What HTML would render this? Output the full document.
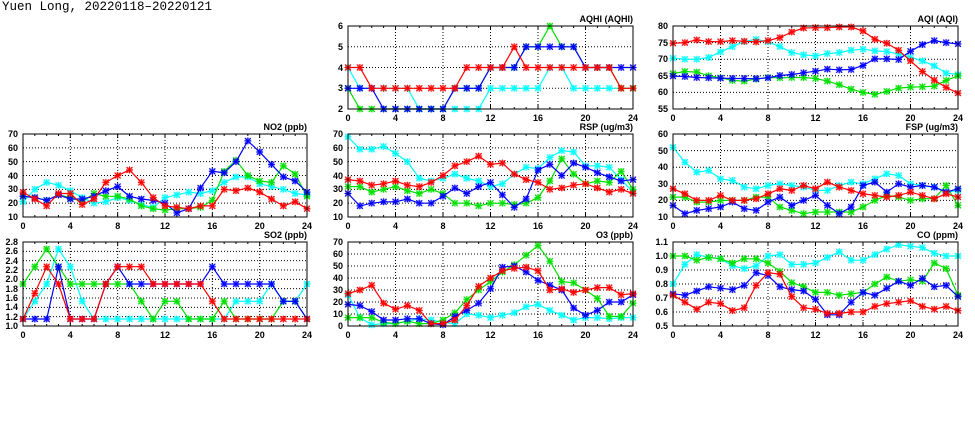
<!DOCTYPE html>
<html><head><meta charset="utf-8"><style>
html,body{margin:0;padding:0;background:#fff;width:975px;height:447px;overflow:hidden}
svg{display:block}
text{font-family:"Liberation Sans",sans-serif;font-size:9px;font-weight:bold;fill:#000}
.yl{text-anchor:end}.xl{text-anchor:middle}.tt{text-anchor:end}
</style></head><body>
<svg id="s" width="975" height="447" xmlns="http://www.w3.org/2000/svg">
<text x="2" y="10" style="font-family:'Liberation Mono',monospace;font-size:12.5px;font-weight:normal">Yuen Long, 20220118–20220121</text>
<g id="plots"></g>
<text class="tt" x="633" y="22">AQHI (AQHI)</text>
<text class="tt" x="958" y="22">AQI (AQI)</text>
<text class="tt" x="307" y="130">NO2 (ppb)</text>
<text class="tt" x="633" y="130">RSP (ug/m3)</text>
<text class="tt" x="958" y="130">FSP (ug/m3)</text>
<text class="tt" x="307" y="238">SO2 (ppb)</text>
<text class="tt" x="633" y="238">O3 (ppb)</text>
<text class="tt" x="958" y="238">CO (ppm)</text>
<text class="yl" x="343" y="29">6</text><text class="yl" x="343" y="50">5</text><text class="yl" x="343" y="71">4</text><text class="yl" x="343" y="91">3</text><text class="yl" x="343" y="112">2</text>
<text class="xl" x="348" y="121">0</text><text class="xl" x="395.5" y="121">4</text><text class="xl" x="443" y="121">8</text><text class="xl" x="490.5" y="121">12</text><text class="xl" x="538" y="121">16</text><text class="xl" x="585.5" y="121">20</text><text class="xl" x="633" y="121">24</text>
<text class="yl" x="668" y="29">80</text><text class="yl" x="668" y="46">75</text><text class="yl" x="668" y="62">70</text><text class="yl" x="668" y="79">65</text><text class="yl" x="668" y="95">60</text><text class="yl" x="668" y="112">55</text>
<text class="xl" x="673" y="121">0</text><text class="xl" x="720.5" y="121">4</text><text class="xl" x="768" y="121">8</text><text class="xl" x="815.5" y="121">12</text><text class="xl" x="863" y="121">16</text><text class="xl" x="910.5" y="121">20</text><text class="xl" x="958" y="121">24</text>
<text class="yl" x="18" y="137">70</text><text class="yl" x="18" y="151">60</text><text class="yl" x="18" y="165">50</text><text class="yl" x="18" y="179">40</text><text class="yl" x="18" y="192">30</text><text class="yl" x="18" y="206">20</text><text class="yl" x="18" y="220">10</text>
<text class="xl" x="23" y="229">0</text><text class="xl" x="70.3" y="229">4</text><text class="xl" x="117.7" y="229">8</text><text class="xl" x="165" y="229">12</text><text class="xl" x="212.3" y="229">16</text><text class="xl" x="259.7" y="229">20</text><text class="xl" x="307" y="229">24</text>
<text class="yl" x="343" y="137">70</text><text class="yl" x="343" y="151">60</text><text class="yl" x="343" y="165">50</text><text class="yl" x="343" y="179">40</text><text class="yl" x="343" y="192">30</text><text class="yl" x="343" y="206">20</text><text class="yl" x="343" y="220">10</text>
<text class="xl" x="348" y="229">0</text><text class="xl" x="395.5" y="229">4</text><text class="xl" x="443" y="229">8</text><text class="xl" x="490.5" y="229">12</text><text class="xl" x="538" y="229">16</text><text class="xl" x="585.5" y="229">20</text><text class="xl" x="633" y="229">24</text>
<text class="yl" x="668" y="137">60</text><text class="yl" x="668" y="154">50</text><text class="yl" x="668" y="170">40</text><text class="yl" x="668" y="187">30</text><text class="yl" x="668" y="203">20</text><text class="yl" x="668" y="220">10</text>
<text class="xl" x="673" y="229">0</text><text class="xl" x="720.5" y="229">4</text><text class="xl" x="768" y="229">8</text><text class="xl" x="815.5" y="229">12</text><text class="xl" x="863" y="229">16</text><text class="xl" x="910.5" y="229">20</text><text class="xl" x="958" y="229">24</text>
<text class="yl" x="18" y="245">2.8</text><text class="yl" x="18" y="254">2.6</text><text class="yl" x="18" y="264">2.4</text><text class="yl" x="18" y="273">2.2</text><text class="yl" x="18" y="282">2.0</text><text class="yl" x="18" y="292">1.8</text><text class="yl" x="18" y="301">1.6</text><text class="yl" x="18" y="310">1.4</text><text class="yl" x="18" y="320">1.2</text><text class="yl" x="18" y="329">1.0</text>
<text class="xl" x="23" y="338">0</text><text class="xl" x="70.3" y="338">4</text><text class="xl" x="117.7" y="338">8</text><text class="xl" x="165" y="338">12</text><text class="xl" x="212.3" y="338">16</text><text class="xl" x="259.7" y="338">20</text><text class="xl" x="307" y="338">24</text>
<text class="yl" x="343" y="245">70</text><text class="yl" x="343" y="257">60</text><text class="yl" x="343" y="269">50</text><text class="yl" x="343" y="281">40</text><text class="yl" x="343" y="293">30</text><text class="yl" x="343" y="305">20</text><text class="yl" x="343" y="317">10</text><text class="yl" x="343" y="329">0</text>
<text class="xl" x="348" y="338">0</text><text class="xl" x="395.5" y="338">4</text><text class="xl" x="443" y="338">8</text><text class="xl" x="490.5" y="338">12</text><text class="xl" x="538" y="338">16</text><text class="xl" x="585.5" y="338">20</text><text class="xl" x="633" y="338">24</text>
<text class="yl" x="668" y="245">1.1</text><text class="yl" x="668" y="259">1.0</text><text class="yl" x="668" y="273">0.9</text><text class="yl" x="668" y="287">0.8</text><text class="yl" x="668" y="301">0.7</text><text class="yl" x="668" y="315">0.6</text><text class="yl" x="668" y="329">0.5</text>
<text class="xl" x="673" y="338">0</text><text class="xl" x="720.5" y="338">4</text><text class="xl" x="768" y="338">8</text><text class="xl" x="815.5" y="338">12</text><text class="xl" x="863" y="338">16</text><text class="xl" x="910.5" y="338">20</text><text class="xl" x="958" y="338">24</text>
</svg>
<script>
var C={c:"#00ffff",g:"#00e000",b:"#0000ff",r:"#ff0000"};
var P=[
{x0:348,x1:633,y0:26,y1:109,lo:2,hi:6,st:1,d:{
c:[4,3,3,3,3,3,2,2,2,2,2,2,3,3,3,3,3,4,4,3,3,3,3,3,3],
g:[3,2,2,2,2,2,2,2,2,3,3,3,4,4,4,5,5,6,5,5,4,4,4,3,3],
b:[3,3,3,2,2,2,2,2,2,3,3,3,4,4,4,5,5,5,5,5,4,4,4,4,4],
r:[4,4,3,3,3,3,3,3,3,3,4,4,4,4,5,4,4,4,4,4,4,4,4,3,3]}},
{x0:673,x1:958,y0:26,y1:109,lo:55,hi:80,st:5,d:{
c:[70.3,70,70,70.5,72.2,73.8,75.3,76,75.2,73.8,72,71.3,71,71.7,72,72.7,73,72.5,72.3,71.6,70.6,69.5,68,65.8,65.4],
g:[65.7,66.3,66.1,65,64.4,63.6,63.4,64,64.5,64.4,64.5,64.5,64.2,63.4,62.3,61,60,59.4,60.3,61.3,61.6,61.7,61.9,63.6,65],
b:[64.9,64.8,64.5,64.4,64.3,64.2,64.2,64.1,64.4,65.1,65.4,65.9,66.4,67,66.8,66.9,68.1,70.1,70.1,69.9,72.4,74.4,75.6,75,74.6],
r:[74.8,75,75.8,75.3,75.3,75.6,75.4,75.2,75.6,76.5,78.2,79.4,79.5,79.5,79.7,79.7,78.5,76,74.8,72.7,69.5,66.3,63.7,61.5,59.8]}},
{x0:23,x1:307,y0:134,y1:217,lo:10,hi:70,st:10,d:{
c:[21,30,35,33,29,24,20,21,24,22,19,17,24,26,28,27,29,35,39,39,34,32,30,27,26],
g:[25,24,22,26,24,21,27,25,25,23,18,16,15,16,16,17,22,43,51,40,36,35,47,41,25],
b:[25,24,22,26,23,23,25,29,32,25,23,22,20,13,16,31,43,42,50,65,57,48,39,36,28],
r:[28,23,18,27,27,19,23,35,40,44,35,24,18,17,16,18,18,30,29,31,28,23,18,21,16]}},
{x0:348,x1:633,y0:134,y1:217,lo:10,hi:70,st:10,d:{
c:[68,59,59,61,56,50,38,36,38,41,38,36,32,34,41,46,45,53,58,57,47,47,46,37,28],
g:[32,32,28,30,32,29,27,30,27,20,20,18,20,20,19,20,24,36,52,41,34,36,35,43,30],
b:[27,18,20,21,21,23,20,20,25,31,27,32,35,26,17,23,44,48,40,49,46,42,39,36,37],
r:[37,36,33,34,36,33,32,35,40,47,50,54,48,49,41,37,35,30,31,33,34,31,28,30,27]}},
{x0:673,x1:958,y0:134,y1:217,lo:10,hi:60,st:10,d:{
c:[52,43,37,38,33,32,28,27,29,30,29,28,26,26,29,31,30,33,36,35,30,29,28,25,26],
g:[22,22,19,19,20,20,20,22,22,16,14,12,13,13,13,13,16,20,23,22,20,21,21,29,17],
b:[17,12,14,15,16,19,15,14,19,22,17,20,23,17,12,16,29,31,25,30,28,29,28,25,27],
r:[27,24,20,20,23,20,20,21,24,27,26,29,27,31,28,26,24,23,22,23,25,23,21,24,22]}},
{x0:23,x1:307,y0:242,y1:326,lo:1,hi:2.8,st:0.2,d:{
c:[1.15,1.53,1.9,2.65,2.27,1.53,1.15,1.15,1.15,1.15,1.15,1.15,1.15,1.15,1.15,1.15,1.15,1.15,1.53,1.53,1.53,1.9,1.53,1.53,1.9],
g:[1.9,2.27,2.65,2.27,1.9,1.9,1.9,1.9,1.9,1.9,1.53,1.15,1.53,1.53,1.15,1.15,1.15,1.53,1.15,1.15,1.15,1.15,1.53,1.53,1.15],
b:[1.15,1.15,1.15,2.27,1.15,1.15,1.15,1.9,2.27,1.9,1.9,1.9,1.9,1.9,1.9,1.9,2.27,1.9,1.9,1.9,1.9,1.9,1.53,1.53,1.15],
r:[1.15,1.7,2.27,1.9,1.15,1.15,1.15,1.9,2.27,2.27,2.27,1.9,1.9,1.9,1.9,1.9,1.53,1.15,1.15,1.15,1.15,1.15,1.15,1.15,1.15]}},
{x0:348,x1:633,y0:242,y1:326,lo:0,hi:70,st:10,d:{
c:[26,7,1,2,2,4,6,5,3,2,10,9,7,9,11,16,18,13,9,5,7,7,6,7,7],
g:[7,7,7,3,2,4,2,2,5,11,22,30,37,45,51,59,67,54,37,36,30,23,8,8,19],
b:[18,17,12,5,5,6,6,2,1,8,13,19,31,49,50,45,38,34,30,15,9,13,20,20,26],
r:[27,30,34,19,14,17,13,2,2,5,17,33,40,46,48,49,46,30,31,28,30,32,32,26,27]}},
{x0:673,x1:958,y0:242,y1:326,lo:0.5,hi:1.1,st:0.1,d:{
c:[.80,.94,1.01,.99,.98,.93,.91,.93,1.0,1.01,.94,.94,.95,.99,1.03,.97,.97,1.01,1.05,1.08,1.07,1.06,1.02,1.0,1.0],
g:[1.0,1.0,.97,.99,.98,.95,.98,.98,.95,.89,.81,.78,.74,.74,.72,.73,.74,.80,.85,.82,.83,.82,.95,.91,.72],
b:[.73,.72,.75,.78,.77,.76,.79,.88,.86,.78,.76,.75,.69,.58,.58,.67,.74,.72,.77,.82,.79,.84,.78,.79,.71],
r:[.72,.67,.62,.67,.66,.61,.63,.79,.88,.87,.71,.63,.62,.59,.59,.60,.60,.64,.66,.67,.68,.64,.62,.64,.61]}}];
var h="";
P.forEach(function(p){
 var X=function(i){return p.x0+(p.x1-p.x0)*i/24},Y=function(v){return p.y1-(p.y1-p.y0)*(v-p.lo)/(p.hi-p.lo)};
 var n=Math.round((p.hi-p.lo)/p.st);
 for(var k=1;k<n;k++){var y=Y(p.lo+k*p.st);h+='<line x1="'+p.x0+'" x2="'+p.x1+'" y1="'+y+'" y2="'+y+'" stroke="#000" stroke-width="1" stroke-dasharray="1,2"/>';}
 for(var k=4;k<24;k+=4){var x=X(k);h+='<line x1="'+x+'" x2="'+x+'" y1="'+p.y0+'" y2="'+p.y1+'" stroke="#000" stroke-width="1" stroke-dasharray="1,2"/>';}
 for(var k=0;k<=24;k++){var x=X(k);h+='<line x1="'+x+'" x2="'+x+'" y1="'+p.y1+'" y2="'+(p.y1-(k%4?2:4))+'" stroke="#000"/><line x1="'+x+'" x2="'+x+'" y1="'+p.y0+'" y2="'+(p.y0+(k%4?2:4))+'" stroke="#000"/>';}
 ["c","g","b","r"].forEach(function(s){
  var a=p.d[s],pts=a.map(function(v,i){return X(i).toFixed(1)+","+Y(v).toFixed(1)}).join(" ");
  h+='<polyline points="'+pts+'" fill="none" stroke="'+C[s]+'" stroke-width="1.2"/>';
  a.forEach(function(v,i){var x=X(i),y=Y(v);
   h+='<rect x="'+(x-3)+'" y="'+(y-3)+'" width="6" height="6" fill="'+C[s]+'" opacity="0.35"/><path d="M'+(x-3)+' '+(y-3)+'L'+(x+3)+' '+(y+3)+'M'+(x-3)+' '+(y+3)+'L'+(x+3)+' '+(y-3)+'M'+x+' '+(y-3.5)+'V'+(y+3.5)+'M'+(x-3.5)+' '+y+'H'+(x+3.5)+'" stroke="'+C[s]+'" stroke-width="1"/>';});
 });
 h+='<rect x="'+p.x0+'" y="'+p.y0+'" width="'+(p.x1-p.x0)+'" height="'+(p.y1-p.y0)+'" fill="none" stroke="#000" stroke-width="1"/>';
});
document.getElementById("plots").innerHTML=h;
</script>
</body></html>
